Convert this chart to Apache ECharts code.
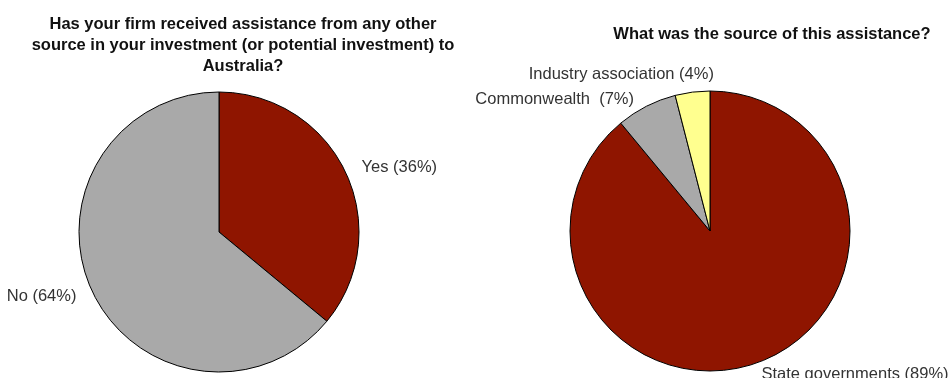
<!DOCTYPE html>
<html>
<head>
<meta charset="utf-8">
<script src="https://cdn.jsdelivr.net/npm/echarts@6/dist/echarts.min.js"></script>
<style>
  html, body { margin: 0; padding: 0; background: #fff; }
  #chart { width: 951px; height: 378px; }
</style>
</head>
<body>
<div id="chart"></div>
<script>
// Survey answers, in percent
const assistanceNames = ['Yes', 'No'];
const assistanceValues = [36, 64];

const sourceNames = ['State governments', 'Commonwealth', 'Industry association'];
const sourceValues = [89, 7, 4];
const sourceLabels = ['State governments (89%)', 'Commonwealth  (7%)', 'Industry association (4%)'];

const titleLeft = 'Has your firm received assistance from any other\nsource in your investment (or potential investment) to\nAustralia?';
const titleRight = 'What was the source of this assistance?';

const RED = '#8f1500';
const GREY = '#a9a9a9';
const YELLOW = '#ffff8f';

const font = '"Liberation Sans", Arial, Helvetica, sans-serif';

const chart = echarts.init(document.getElementById('chart'), null, { renderer: 'canvas' });

const titleStyle = {
  fontFamily: font,
  fontSize: 16.5,
  fontWeight: 'bold',
  color: '#111',
  lineHeight: 21
};

const labelBase = {
  show: true,
  position: 'outside',
  fontFamily: font,
  fontSize: 16.5,
  color: '#333'
};

// small nudges for the crowded labels of the right-hand pie
const sourceLabelShift = [[-5, 0], [-2, 4], [28, -6]];

chart.setOption({
  animation: false,
  backgroundColor: '#fff',
  title: [
    { text: titleLeft, left: 238, top: 9, textAlign: 'center', textStyle: titleStyle },
    { text: titleRight, left: 767, top: 19, textAlign: 'center', textStyle: titleStyle }
  ],
  series: [
    {
      type: 'pie',
      center: [219, 232],
      radius: 140,
      startAngle: 90,
      clockwise: true,
      avoidLabelOverlap: false,
      itemStyle: { borderColor: '#000', borderWidth: 1 },
      label: Object.assign({}, labelBase, {
        formatter: p => p.name + ' (' + p.value + '%)'
      }),
      labelLine: { show: false, length: 12, length2: 0 },
      emphasis: { disabled: true },
      data: assistanceNames.map((n, i) => ({
        name: n,
        value: assistanceValues[i],
        itemStyle: { color: [RED, GREY][i] }
      }))
    },
    {
      type: 'pie',
      center: [710, 231],
      radius: 140,
      startAngle: 90,
      clockwise: true,
      avoidLabelOverlap: false,
      minShowLabelAngle: 0,
      itemStyle: { borderColor: '#000', borderWidth: 1 },
      label: Object.assign({}, labelBase, {
        formatter: p => sourceLabels[p.dataIndex]
      }),
      labelLine: { show: false, length: 12, length2: 0 },
      labelLayout: p => ({
        dx: sourceLabelShift[p.dataIndex][0],
        dy: sourceLabelShift[p.dataIndex][1],
        hideOverlap: false
      }),
      emphasis: { disabled: true },
      data: sourceNames.map((n, i) => ({
        name: n,
        value: sourceValues[i],
        itemStyle: { color: [RED, GREY, YELLOW][i] }
      }))
    }
  ]
});
</script>
</body>
</html>
